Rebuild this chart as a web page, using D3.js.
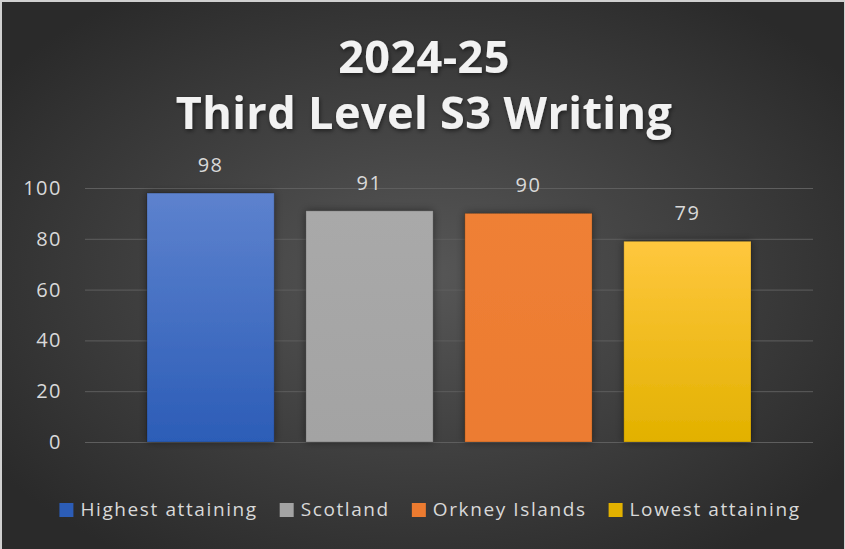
<!DOCTYPE html>
<html>
<head>
<meta charset="utf-8">
<script src="https://cdn.jsdelivr.net/npm/d3@7"></script>
<style>
  body { margin: 0; background: #fff; }
  svg { display: block; font-family: "Open Sans", sans-serif; }
</style>
</head>
<body>
<svg id="chart" width="845" height="549"></svg>
<script>
// chart data
var categories = ["Highest attaining", "Scotland", "Orkney Islands", "Lowest attaining"];
var values = [98, 91, 90, 79];
var yTicks = [0, 20, 40, 60, 80, 100];
var titleLines = ["2024-25", "Third Level S3 Writing"];

// colours per bar: [top, bottom]
var barColours = [["#5d82ce", "#2c5db7"], ["#a9a9a9", "#a3a3a3"], ["#ef8036", "#ec7b30"], ["#ffc73e", "#e2b100"]];

var W = 845, H = 549;
var svg = d3.select("#chart");
var defs = svg.append("defs");

// background - dark radial fade
var bg = defs.append("radialGradient").attr("id", "bg")
    .attr("cx", "50%").attr("cy", "50%").attr("r", "62%");
bg.append("stop").attr("offset", "0%").attr("stop-color", "#575757");
bg.append("stop").attr("offset", "100%").attr("stop-color", "#2a2a2a");

barColours.forEach(function(c, i) {
  var g = defs.append("linearGradient").attr("id", "bar" + i)
      .attr("x1", 0).attr("y1", 0).attr("x2", 0).attr("y2", 1);
  g.append("stop").attr("offset", "0%").attr("stop-color", c[0]);
  g.append("stop").attr("offset", "100%").attr("stop-color", c[1]);
});

// soft shadow for bars and title
var sh = defs.append("filter").attr("id", "shadow")
    .attr("x", "-20%").attr("y", "-20%").attr("width", "140%").attr("height", "140%");
sh.append("feDropShadow").attr("dx", 0).attr("dy", 0).attr("stdDeviation", 4)
    .attr("flood-color", "#000").attr("flood-opacity", 0.45);
var tsh = defs.append("filter").attr("id", "tshadow");
tsh.append("feDropShadow").attr("dx", 1).attr("dy", 2).attr("stdDeviation", 2)
    .attr("flood-color", "#000").attr("flood-opacity", 0.5);

svg.append("rect").attr("width", W).attr("height", H).attr("fill", "#d0d0d0");
svg.append("rect").attr("x", 2).attr("y", 2).attr("width", W - 3).attr("height", H - 2)
    .attr("fill", "url(#bg)");

// title
svg.append("g").selectAll("text").data(titleLines).enter().append("text")
    .attr("x", 424).attr("y", function(d, i) { return 73 + i * 56; })
    .attr("text-anchor", "middle")
    .attr("font-size", 45).attr("font-weight", 700).attr("letter-spacing", 0.4)
    .attr("fill", "#f2f2f2")
    .attr("filter", "url(#tshadow)")
    .text(function(d) { return d; });

// scales
var x = d3.scaleBand().domain(categories).range([85, 813]).paddingInner(0.2).paddingOuter(0.39);
var y = d3.scaleLinear().domain([0, 100]).range([442, 188]);

// gridlines
svg.append("g").selectAll("line").data(yTicks).enter().append("line")
    .attr("x1", 85).attr("x2", 813)
    .attr("y1", function(d) { return y(d) + 0.5; }).attr("y2", function(d) { return y(d) + 0.5; })
    .attr("stroke", "#5e5e5e").attr("stroke-width", 1);

// y axis labels
var yAxis = svg.append("g").attr("transform", "translate(62,0)")
    .call(d3.axisLeft(y).tickValues(yTicks).tickSize(0).tickPadding(0));
yAxis.select(".domain").remove();
yAxis.selectAll("text")
    .attr("font-family", "Open Sans, sans-serif").attr("font-size", 20)
    .attr("letter-spacing", 1.5)
    .attr("fill", "#d9d9d9");

// bars
svg.append("g").selectAll("rect").data(values).enter().append("rect")
    .attr("x", function(d, i) { return x(categories[i]); })
    .attr("y", function(d) { return y(d); })
    .attr("width", x.bandwidth())
    .attr("height", function(d) { return y(0) - y(d); })
    .attr("fill", function(d, i) { return "url(#bar" + i + ")"; })
    .attr("stroke", "rgba(0,0,0,0.18)").attr("stroke-width", 1)
    .attr("filter", "url(#shadow)");

// value labels
svg.append("g").selectAll("text").data(values).enter().append("text")
    .attr("x", function(d, i) { return x(categories[i]) + x.bandwidth() / 2; })
    .attr("y", function(d) { return y(d) - 21; })
    .attr("text-anchor", "middle")
    .attr("font-size", 20).attr("letter-spacing", 1.5)
    .attr("fill", "#d9d9d9")
    .text(function(d) { return d; });

// legend - measure then centre it
var legend = svg.append("g");
var items = legend.selectAll("g").data(categories).enter().append("g");
items.append("rect").attr("width", 14).attr("height", 14).attr("y", -12)
    .attr("fill", function(d, i) { return barColours[i][1]; });
items.append("text").attr("x", 21).attr("y", 1)
    .attr("font-size", 19).attr("letter-spacing", 1.6)
    .attr("fill", "#d9d9d9")
    .text(function(d) { return d; });
var pos = 0, offsets = [];
items.each(function() {
  offsets.push(pos);
  pos += 21 + this.querySelector("text").getComputedTextLength() + 22;
});
var total = pos - 22;
items.attr("transform", function(d, i) { return "translate(" + offsets[i] + ",0)"; });
legend.attr("transform", "translate(" + (430 - total / 2) + ",515)");
</script>
</body>
</html>
